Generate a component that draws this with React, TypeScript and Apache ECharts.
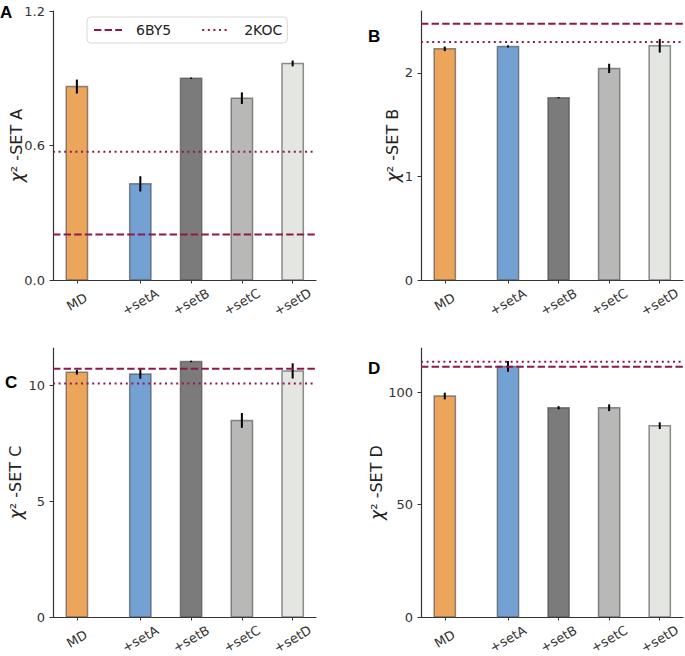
import React, { useEffect, useRef } from "react";
import * as echarts from "echarts";

// ---------- data ----------
const CATEGORIES = ["MD", "+setA", "+setB", "+setC", "+setD"];
const POSITIONS = [0, 1.25, 2.25, 3.25, 4.25];
const BAR_COLORS = ["#EBA65B", "#74A1D3", "#7A7B7A", "#B8B9B7", "#E4E6E2"];

const SET_A_VALUES = [0.863, 0.429, 0.9, 0.811, 0.966];
const SET_A_ERRORS = [0.031, 0.034, 0.003, 0.026, 0.013];
const SET_B_VALUES = [2.231, 2.254, 1.759, 2.042, 2.26];
const SET_B_ERRORS = [0.022, 0.01, 0.006, 0.045, 0.065];
const SET_C_VALUES = [10.58, 10.51, 11.05, 8.5, 10.64];
const SET_C_ERRORS = [0.1, 0.21, 0.03, 0.32, 0.33];
const SET_D_VALUES = [98.4, 111.6, 93.2, 93.2, 85.2];
const SET_D_ERRORS = [1.5, 2.4, 0.7, 1.5, 1.5];

const REF_6BY5 = [0.203, 2.472, 10.735, 111.5];
const REF_2KOC = [0.572, 2.296, 10.09, 113.7];

const Y_MAX = [1.2, 2.596, 11.63, 119.8];
const Y_TICKS = [
  [0, 0.6, 1.2],
  [0, 1, 2],
  [0, 5, 10],
  [0, 50, 100],
];
const Y_NAMES = ["SET A", "SET B", "SET C", "SET D"];
const PANEL_LETTERS = ["A", "B", "C", "D"];
const X_MIN = -0.47;
const X_MAX = 4.71;

// ---------- layout / style ----------
const FONT = "DejaVu Sans";
const AXIS_COLOR = "#333333";
const LINE_COLOR = "#8B1A4B";
const BAR_WIDTH = 0.42;
const GRIDS = [
  { left: 53, top: 11, width: 263, height: 269 },
  { left: 421, top: 11, width: 262, height: 269 },
  { left: 53, top: 348, width: 263, height: 269 },
  { left: 421, top: 348, width: 262, height: 269 },
];
const NAME_GAPS = [28, 20, 29, 36];
const LETTER_POS = [
  [0, 12.5],
  [368, 36.5],
  [5, 382],
  [368, 368],
];

const PANELS = [
  { values: SET_A_VALUES, errors: SET_A_ERRORS },
  { values: SET_B_VALUES, errors: SET_B_ERRORS },
  { values: SET_C_VALUES, errors: SET_C_ERRORS },
  { values: SET_D_VALUES, errors: SET_D_ERRORS },
];

function catLabel(v: number): string {
  const i = POSITIONS.findIndex((p) => Math.abs(p - v) < 1e-6);
  return i >= 0 ? CATEGORIES[i] : "";
}

function buildOption() {
  const grid = GRIDS.map((g) => ({ ...g, outerBoundsMode: "none", containLabel: false }));

  const xAxis = GRIDS.map((_, k) => ({
    type: "value",
    gridIndex: k,
    min: X_MIN,
    max: X_MAX,
    splitLine: { show: false },
    axisLine: { show: true, onZero: false, lineStyle: { color: AXIS_COLOR, width: 1.2 } },
    axisTick: {
      show: true,
      length: 3.5,
      customValues: POSITIONS,
      lineStyle: { color: AXIS_COLOR, width: 1 },
    },
    axisLabel: {
      show: true,
      customValues: POSITIONS,
      formatter: (v: number) => catLabel(v),
      rotate: 30,
      align: "center",
      verticalAlign: "middle",
      margin: 22,
      fontSize: 13,
      fontFamily: FONT,
      color: AXIS_COLOR,
      hideOverlap: false,
    },
  }));

  const yAxis = GRIDS.map((_, k) => ({
    type: "value",
    gridIndex: k,
    min: 0,
    max: Y_MAX[k],
    splitLine: { show: false },
    axisLine: { show: true, onZero: false, lineStyle: { color: AXIS_COLOR, width: 1.2 } },
    axisTick: {
      show: true,
      length: 3.5,
      customValues: Y_TICKS[k],
      lineStyle: { color: AXIS_COLOR, width: 1 },
    },
    axisLabel: {
      show: true,
      customValues: Y_TICKS[k],
      formatter: (v: number) => (k === 0 ? v.toFixed(1) : String(Math.round(v))),
      margin: 8,
      fontSize: 13,
      fontFamily: FONT,
      color: AXIS_COLOR,
      showMaxLabel: true,
      showMinLabel: true,
    },
    name: "{i|χ}² -" + Y_NAMES[k],
    nameLocation: "middle",
    nameGap: NAME_GAPS[k],
    nameRotate: 90,
    nameMoveOverlap: false,
    nameTextStyle: {
      fontSize: 16,
      fontFamily: FONT,
      color: "#222",
      rich: {
        i: { fontSize: 17, fontStyle: "italic", fontFamily: FONT, color: "#222" },
      },
    },
  }));

  const series: any[] = [];
  PANELS.forEach((p, k) => {
    series.push({
      type: "custom",
      xAxisIndex: k,
      yAxisIndex: k,
      z: 2,
      silent: true,
      encode: { x: 0, y: 1 },
      data: POSITIONS.map((pos, i) => [pos, p.values[i], p.errors[i], i]),
      renderItem: (_params: any, api: any) => {
        const x = api.value(0);
        const y = api.value(1);
        const err = api.value(2);
        const idx = api.value(3);
        const base = api.coord([x, 0]);
        const top = api.coord([x, y]);
        const eTop = api.coord([x, y + err]);
        const eBot = api.coord([x, y - err]);
        const bw = api.size([BAR_WIDTH, 0])[0];
        return {
          type: "group",
          children: [
            {
              type: "rect",
              shape: { x: base[0] - bw / 2, y: top[1], width: bw, height: base[1] - top[1] },
              style: { fill: BAR_COLORS[idx], stroke: "rgba(70,70,70,0.6)", lineWidth: 1.5 },
            },
            {
              type: "line",
              shape: { x1: top[0], y1: eTop[1], x2: top[0], y2: eBot[1] },
              style: { stroke: "#000", lineWidth: 2 },
            },
          ],
        };
      },
    });
    series.push({
      type: "line",
      name: "6BY5",
      xAxisIndex: k,
      yAxisIndex: k,
      z: 4,
      silent: true,
      symbol: "none",
      showSymbol: false,
      data: [
        [X_MIN, REF_6BY5[k]],
        [X_MAX, REF_6BY5[k]],
      ],
      lineStyle: { color: LINE_COLOR, width: 2, type: [7.4, 3.2] },
      itemStyle: { color: LINE_COLOR },
    });
    series.push({
      type: "line",
      name: "2KOC",
      xAxisIndex: k,
      yAxisIndex: k,
      z: 4,
      silent: true,
      symbol: "none",
      showSymbol: false,
      data: [
        [X_MIN, REF_2KOC[k]],
        [X_MAX, REF_2KOC[k]],
      ],
      lineStyle: { color: LINE_COLOR, width: 2, type: [2, 3.6] },
      itemStyle: { color: LINE_COLOR },
    });
  });

  const graphic = PANEL_LETTERS.map((t, k) => ({
    type: "text",
    x: LETTER_POS[k][0],
    y: LETTER_POS[k][1],
    silent: true,
    style: {
      text: t,
      fontSize: 17,
      fontWeight: "bold",
      fontFamily: "Liberation Sans",
      fill: "#000",
      textAlign: "left",
      textVerticalAlign: "middle",
    },
  }));

  return {
    animation: false,
    backgroundColor: "#ffffff",
    grid,
    xAxis,
    yAxis,
    series,
    graphic,
    legend: {
      show: true,
      data: ["6BY5", "2KOC"],
      left: 87,
      top: 17,
      orient: "horizontal",
      itemWidth: 28,
      itemHeight: 14,
      itemGap: 30,
      padding: [6, 5, 6, 6],
      backgroundColor: "rgba(255,255,255,0.85)",
      borderColor: "#d8d8d8",
      borderWidth: 1,
      borderRadius: 4,
      selectedMode: false,
      itemStyle: { color: "rgba(0,0,0,0)", opacity: 0, borderWidth: 0 },
      textStyle: {
        fontSize: 14,
        fontFamily: FONT,
        color: "#222",
        padding: [0, 0, 0, 9],
      },
    },
    tooltip: { show: false },
  };
}

export default function App() {
  const ref = useRef<HTMLDivElement>(null);
  useEffect(() => {
    document.body.style.margin = "0";
    if (!ref.current) return;
    const chart = echarts.init(ref.current, null, { renderer: "svg" });
    chart.setOption(buildOption() as any);
    return () => {
      chart.dispose();
    };
  }, []);
  return <div ref={ref} style={{ width: 685, height: 656, background: "#fff" }} />;
}
